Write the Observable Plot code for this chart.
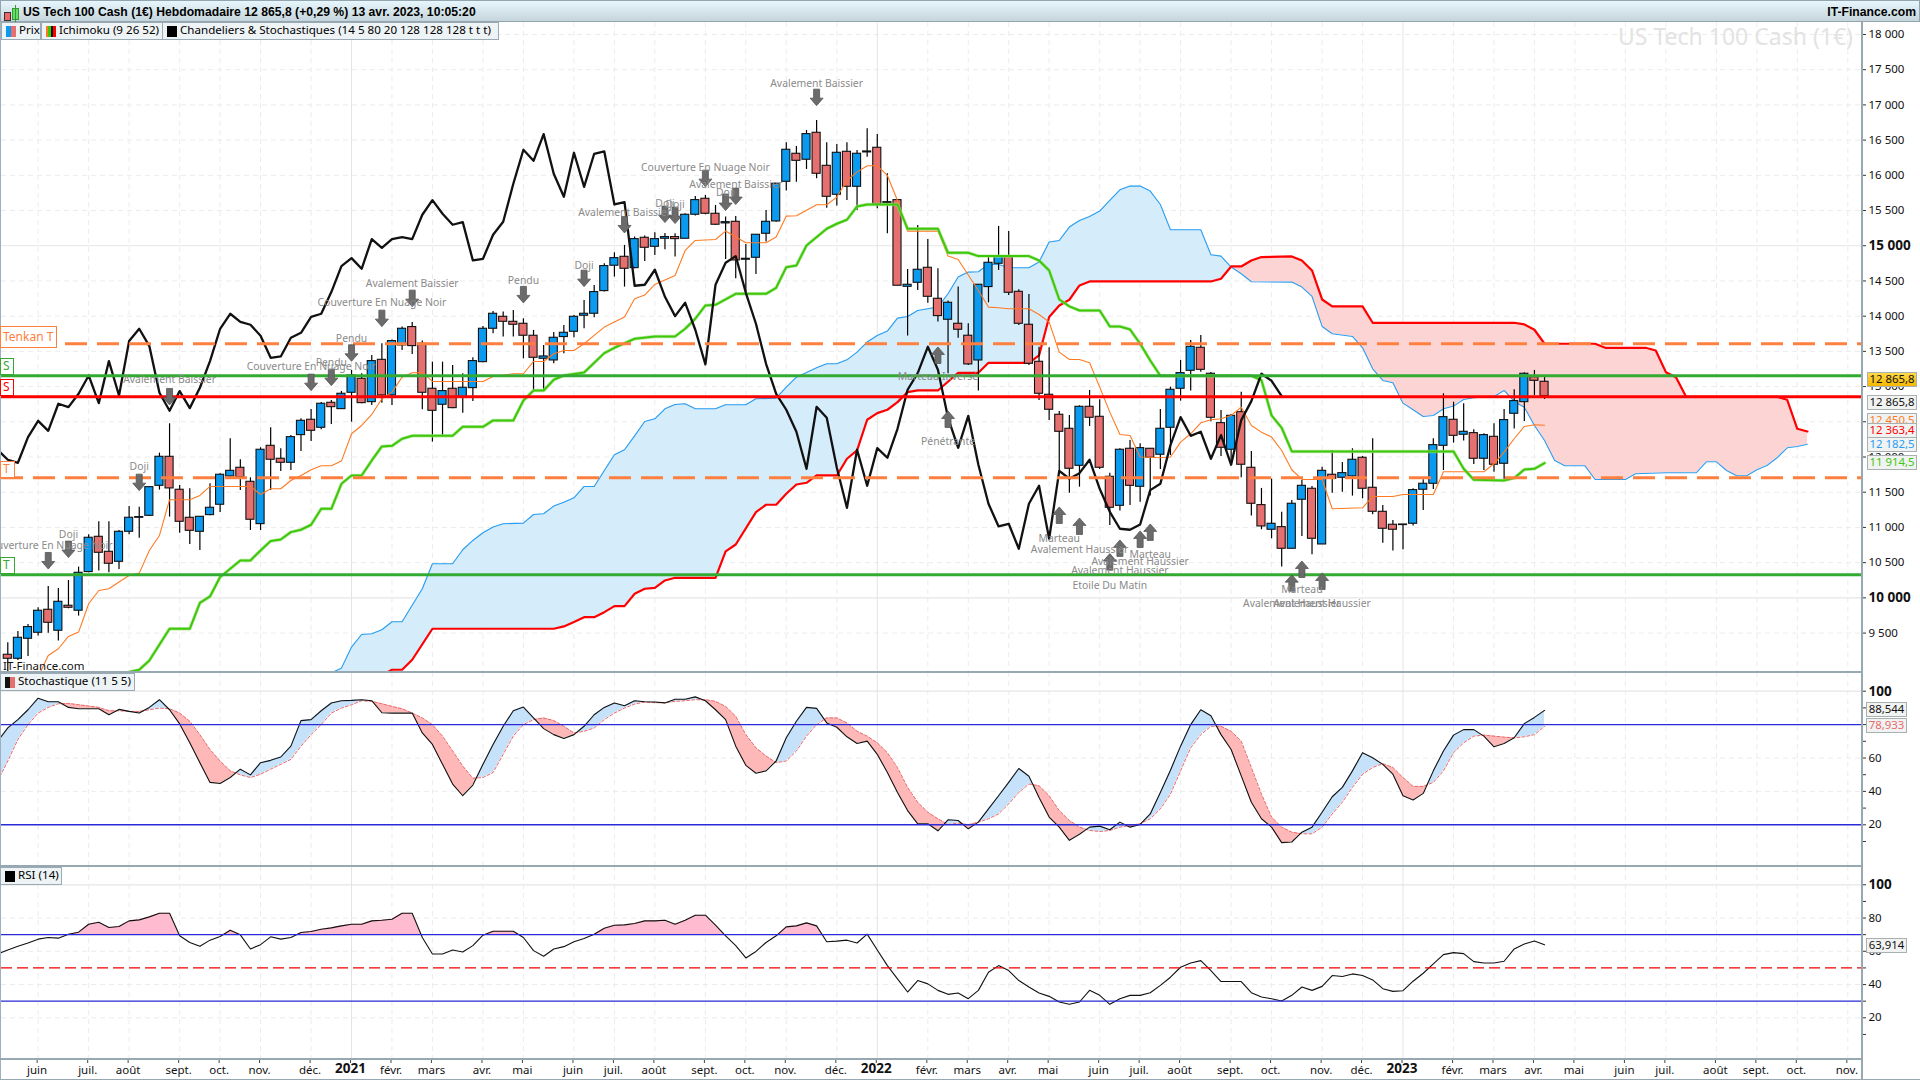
<!DOCTYPE html>
<html lang="fr"><head><meta charset="utf-8">
<script src="https://cdn.jsdelivr.net/npm/d3@7"></script>
<script src="https://cdn.jsdelivr.net/npm/@observablehq/plot@0.6"></script>
<style>
html,body{margin:0;padding:0;background:#fff;overflow:hidden}
#page{position:relative;width:1920px;height:1080px;overflow:hidden;font-family:"Noto Sans",sans-serif;color:#000}
#page>div{position:absolute;box-sizing:border-box}
.panel{left:0}
.panel svg{display:block}
.hdr{left:0;top:0;width:1920px;height:22px;background:linear-gradient(#e6f6fc,#c5d5db);border:1px solid #93a6b0;border-bottom:1.5px solid #93a6b0;font:bold 12.2px "Liberation Sans",sans-serif}
.tab{background:#eef3f6;border:1px solid #9aabb5;height:18px;line-height:14px;font-size:11.6px;white-space:nowrap;padding-left:17px}
.sw{position:absolute;left:4px;top:3px;height:11px;width:10px}
.lev{background:#fff;font-size:12px;text-align:left;padding-left:2px;line-height:16px;border:1px solid}
.val{left:1867px;width:50px;height:15px;line-height:12px;font-size:11.4px;text-align:center;background:#f1f3f3;border:1px solid #a8b0b0;white-space:nowrap}
.sep{left:0;height:2px;background:#98a8b2}
</style></head><body>
<div id="page"></div>
<script>
// ---------- Candles, one value per week starting on 11 May 2020 ----------
const firstWeek = Date.UTC(2020, 4, 11);
const opens = [9192,9135,9419,9504,9831,9533,9888,9817,10366,10867,
10654,10512,10938,11137,11165,11591,12003,11535,11137,10938,
11175,11322,11724,11847,11648,11047,12159,11975,11918,12311,
12529,12415,12770,12680,12912,13111,12779,13380,12874,13584,
13845,13608,12969,12742,12969,12841,12978,13347,13821,13991,
13920,13892,13722,13395,13371,13703,13778,14006,14034,14356,
14716,14843,14682,15113,14985,15099,15123,15099,15440,15667,
15454,15317,15340,14801,14829,15170,15345,15908,16306,16221,
16604,16135,15724,16334,15837,16325,16391,15605,15648,14417,
14474,14687,14247,13949,13892,13722,13371,14413,14744,14839,
14346,13878,13352,12884,12600,12401,11875,12713,12571,11719,
11307,12117,11577,12117,12032,12415,12969,13224,13551,13182,
12481,12103,12637,11847,11317,10967,11004,10697,11393,11549,
10758,11748,11705,11724,11989,11563,11222,11038,11033,11052,
11535,11620,12159,12529,12316,12339,11975,12287,11904,12614,
12779,13134,13068];
const closes = [9135,9433,9585,9817,9646,9944,9859,10356,10853,10640,
10484,10938,11137,11147,11572,12003,11554,11080,10952,11151,
11279,11748,11804,11714,11109,12103,11961,11918,12282,12514,
12372,12756,12708,12898,13158,12765,13362,12874,13646,13821,
13575,12912,12656,12936,12694,12983,13362,13821,14034,13920,
13878,13722,13409,13428,13693,13764,13991,14034,14342,14711,
14824,14673,15094,14971,15094,15123,15094,15440,15648,15454,
15298,15335,14791,14815,15156,15340,15880,16363,16206,16585,
16022,15695,16320,15837,16306,16339,15586,15619,14432,14446,
14659,14275,14001,14190,13807,13315,14446,14758,14853,14332,
13892,13324,12898,12671,12358,11833,12713,12557,11847,11279,
12103,11591,12126,11989,12401,12955,13191,13565,13238,12557,
12131,12585,11890,11336,11014,11052,10697,11336,11591,10839,
11804,11691,11771,11961,11549,11222,10981,10967,11042,11530,
11620,12169,12566,12301,12358,11975,12311,11890,12524,12794,
13182,13082,12866];
const highs = [9362,9523,9622,9859,10162,10134,10247,10437,10896,11080,
11080,10957,11298,11288,11582,12055,12472,11596,11549,11151,
11620,11762,12259,11961,11705,12131,12415,12117,12306,12543,
12675,12775,12803,12931,13229,13182,13442,13608,13660,13845,
13911,13646,13347,13347,13300,13182,13409,13854,14067,14058,
14081,13963,13797,13584,13769,13868,14010,14223,14436,14744,
14900,15004,15123,15137,15184,15175,15170,15454,15700,15714,
15572,15407,15416,15018,15156,15501,15880,16462,16410,16637,
16779,16462,16438,16462,16353,16661,16580,16022,15648,14663,
15288,15089,14673,14214,14413,13892,14446,14853,15274,15203,
14375,14308,13560,13551,12647,12590,12727,12945,12813,11771,
12117,12235,12188,12117,12675,12992,13371,13655,13726,13201,
12661,12604,12921,12079,11554,11686,11217,11383,11667,11582,
11856,12093,11923,12117,12008,12259,11312,11099,11042,11549,
11677,12259,12898,12779,12756,12387,12330,12472,12675,12955,
13196,13229,13134];
const lows = [8922,9111,9168,9457,9499,9386,9845,9741,10356,10380,
10356,10403,10896,10848,11156,11530,11147,10919,10758,10673,
11165,11213,11714,11525,10957,10957,11525,11795,11809,12079,
12221,12387,12462,12680,12495,12756,12732,12765,12732,13513,
13457,12671,12211,12306,12685,12623,12789,13338,13750,13703,
13703,13395,12945,12945,13324,13466,13693,13821,13977,14342,
14555,14413,14673,14777,14862,14943,14839,15099,15421,15440,
15288,14805,14531,14318,14592,15052,15335,15776,15903,16083,
15951,15534,15563,15643,15501,16258,15525,15170,14432,13717,
14365,14185,13916,13182,13688,13300,12936,14190,14649,14294,
13868,13300,12803,12519,11785,11487,11572,12434,11823,11028,
11232,11312,11359,11445,11823,12022,12794,12936,13205,12500,
12008,11880,11705,11161,10967,10839,10437,10697,10872,10612,
10758,11487,11501,11445,11407,11180,10777,10664,10683,11019,
11241,11539,11809,12197,12226,11894,11809,11785,11677,12396,
12505,12874,12817];

// ---------- Ichimoku lines, read as [week, value] at each bend ----------
const tenkan = [[3,8875],[4,9182],[5,9277],[6,9452],[7,9514],[8,9916],[9,10105],[10,10129],[11,10224],[12,10318],[13,10351],[14,10673],[15,10886],[16,11393],[18,11393],[19,11454],[20,11582],[24,11582],[25,11468],[26,11549],[27,11549],[28,11667],[29,11738],[30,11819],[31,11875],[32,11875],[33,11942],[34,12330],[35,12448],[36,12604],[37,12827],[38,12921],[39,13134],[40,13196],[41,13201],[42,13073],[47,13073],[48,13144],[50,13182],[51,13182],[52,13357],[53,13357],[54,13466],[55,13513],[56,13513],[57,13608],[58,13727],[59,13845],[60,13916],[61,13987],[62,14247],[63,14300],[64,14450],[66,14578],[67,14933],[68,15075],[70,15089],[71,15208],[73,15042],[75,15042],[76,15123],[77,15421],[78,15425],[80,15582],[81,15582],[82,15691],[83,15927],[84,16045],[85,16135],[86,16135],[87,15998],[88,15643],[89,15208],[92,15208],[93,14853],[94,14805],[96,14365],[97,14129],[98,14119],[99,14105],[101,14105],[102,14024],[103,13916],[104,13490],[105,13385],[106,13385],[107,13338],[108,12992],[109,12637],[110,12320],[111,12306],[112,12000],[114,11989],[115,12000],[116,12211],[117,12330],[118,12486],[119,12529],[120,12543],[121,12590],[122,12708],[123,12448],[124,12353],[125,12283],[126,12093],[127,11819],[128,11681],[130,11681],[131,11265],[134,11279],[135,11440],[137,11440],[138,11468],[141,11468],[142,11790],[146,11790],[147,11904],[148,12069],[149,12259],[150,12434],[151,12458],[152,12450]];
const kijun = [[12,8946],[13,8979],[14,9111],[16,9561],[18,9561],[19,9930],[20,10020],[21,10295],[22,10413],[23,10531],[24,10531],[25,10673],[26,10806],[27,10829],[28,10933],[29,10967],[30,11038],[31,11265],[32,11265],[33,11620],[34,11738],[35,11738],[36,11951],[37,12150],[38,12159],[39,12259],[40,12301],[44,12301],[45,12429],[47,12429],[48,12519],[50,12519],[51,12803],[52,12945],[53,12945],[54,13097],[55,13158],[57,13201],[59,13475],[60,13551],[62,13679],[64,13712],[66,13712],[67,13821],[68,13963],[69,14152],[70,14162],[72,14318],[75,14318],[76,14403],[77,14696],[78,14720],[79,15004],[81,15241],[82,15312],[83,15369],[84,15558],[85,15586],[88,15586],[89,15241],[92,15241],[93,14900],[95,14900],[96,14853],[101,14853],[102,14791],[103,14649],[104,14237],[105,14138],[106,14081],[108,14081],[109,13854],[110,13854],[111,13811],[112,13608],[113,13371],[114,13153],[123,13153],[124,13090],[125,12590],[126,12415],[127,12079],[143,12079],[144,11833],[145,11677],[148,11667],[149,11700],[150,11823],[151,11833],[152,11914]];
const senkouA = [[28,8500],[32,8936],[33,9002],[34,9301],[35,9480],[36,9490],[37,9547],[38,9660],[39,9660],[41,10129],[42,10484],[44,10484],[45,10683],[46,10815],[47,10924],[48,11005],[49,11052],[51,11061],[52,11184],[53,11194],[54,11303],[55,11359],[56,11421],[57,11582],[58,11582],[60,12032],[61,12103],[62,12300],[63,12505],[64,12543],[65,12685],[66,12746],[67,12756],[68,12685],[70,12685],[71,12742],[73,12742],[74,12827],[76,12836],[77,12992],[78,13134],[80,13267],[81,13324],[82,13324],[83,13380],[84,13489],[85,13632],[86,13726],[87,13788],[88,13972],[89,13996],[90,14081],[91,14105],[92,14129],[93,14318],[94,14555],[95,14626],[96,14630],[97,14735],[98,14735],[99,14687],[101,14687],[102,14768],[103,15052],[104,15075],[105,15265],[106,15359],[107,15416],[108,15492],[109,15643],[110,15795],[111,15847],[112,15847],[113,15776],[114,15586],[115,15227],[118,15227],[119,14872],[120,14853],[121,14697],[122,14602],[123,14488],[127,14484],[128,14413],[129,14280],[130,13854],[131,13750],[133,13712],[134,13551],[135,13253],[136,13087],[137,13054],[138,12765],[139,12671],[140,12576],[141,12590],[142,12685],[143,12723],[144,12817],[145,12841],[147,12860],[148,12945],[149,12789],[150,12708],[151,12448],[152,12235],[153,11951],[154,11875],[156,11875],[157,11681],[160,11681],[161,11762],[164,11776],[167,11776],[168,11932],[169,11932],[170,11809],[171,11733],[172,11733],[173,11819],[174,11880],[175,11989],[176,12131],[177,12150],[178,12182]];
const senkouB = [[28,8300],[37,8900],[38,8979],[39,8979],[40,9121],[42,9561],[54,9561],[55,9594],[56,9656],[57,9726],[58,9726],[59,9797],[60,9883],[61,9883],[62,10058],[63,10129],[64,10143],[65,10247],[66,10285],[70,10285],[71,10659],[72,10758],[74,11218],[75,11322],[76,11322],[77,11478],[78,11610],[79,11634],[80,11738],[82,11738],[83,11975],[84,12093],[85,12529],[86,12623],[87,12671],[88,12779],[89,12921],[90,12945],[92,12945],[94,13196],[96,13196],[97,13338],[101,13338],[102,13442],[103,13987],[104,14152],[105,14233],[106,14436],[107,14493],[119,14493],[120,14531],[121,14706],[122,14706],[123,14791],[124,14839],[127,14848],[128,14791],[129,14649],[130,14237],[131,14138],[134,14138],[135,13906],[149,13906],[150,13883],[151,13807],[152,13608],[157,13608],[158,13551],[162,13551],[163,13513],[164,13205],[165,13134],[166,12855],[175,12855],[176,12813],[177,12401],[178,12363]];

// ---------- Level lines ----------
const tenkanLevels = [13608, 11705];
const supportGreen = [13153, 10328];
const resistanceRed = [12855];

// ---------- Candlestick pattern notes: text, week, text level, arrow level ----------
const downNotes = [
["Couverture En Nuage Noir",4,10744,10531],["Doji",6,10900,10692],["Doji",13,11856,11643],["Avalement Baissier",16,13097,12860],
["Couverture En Nuage Noir",30,13286,13063],["Pendu",32,13338,13134],["Pendu",34,13674,13480],["Couverture En Nuage Noir",37,14185,13972],
["Avalement Baissier",40,14465,14256],["Pendu",51,14507,14309],["Doji",57,14720,14540],["Avalement Baissier",61,15473,15302],
["Doji",65,15596,15449],["Doji",66,15586,15435],["Couverture En Nuage Noir",69,16112,15960],["Doji",71,15757,15620],["Avalement Baissier",72,15870,15705],["Avalement Baissier",80,17304,17110]];
const upNotes = [
["Marteau Inversé",92,13144,13442],["Pénétrante",93,12221,12533],["Marteau",104,10839,11170],["Avalement Haussier",106,10687,11014],
["Etoile Du Matin",109,10176,10508],["Avalement Haussier",110,10380,10702],["Avalement Haussier",112,10507,10829],["Marteau",113,10616,10929],
["Avalement Haussier",127,9916,10209],["Marteau",128,10115,10403],["Avalement Haussier",130,9916,10233]];

// ---------- Oscillators, one value per week starting one week before the first candle ----------
const stochK = [70,78,83,88.9,95.8,93.7,93.7,90.3,89.5,89.5,89.5,
85.9,89.1,87.9,86.9,90.3,94.9,88.9,80.4,69.1,57.2,
45.4,44.7,48.3,53.3,49.9,57.2,58.6,60.6,67.1,82.4,
83,88.3,92.9,94.3,94.5,94.9,94.3,87.1,86.9,86.9,
86.9,75,68.1,56.2,44.4,37.4,43.8,56.2,68.1,79,
88.3,90.5,84,77.6,74,71.7,74,79,85.9,90.3,
92.9,91.3,94.3,93.7,93.5,93,95.2,95.2,96.6,94.3,
88.9,83,67.1,55.6,50.9,52.3,58.2,72.1,82,90.3,
89.7,81,78.4,72.7,68.7,70.1,62.2,51.3,39.4,28.5,
20.6,20.6,16.4,23,22.6,17.6,21.6,29.5,37.4,45.4,
53.7,49.1,36.4,24.6,18.6,10.7,14.3,18.6,19.2,17,
21.6,18.6,20.2,26.5,39.4,52.7,67.1,80,88.9,85.3,
74,65.1,49.3,33.5,23.6,18.6,9.3,9.7,15.6,18.6,
27.5,36.8,42.4,52.3,63.2,60.2,56.2,50.3,37.4,34.9,
38.8,52.3,64.2,73.7,77,77,73.1,66.7,68.7,72.1,
80.6,84.3,88.5];
const stochD = [46.3,58.2,71.1,80,86.9,90.3,92.5,92.7,91.9,91.1,90.3,
88.3,88.3,87.9,87.9,88.9,89.9,89.5,86.9,82,74,
65.1,58.2,52.3,49.9,48.3,50.3,53.3,56.2,59.2,67.1,
74,80,86.9,89.9,91.9,94.3,93.9,92.5,90.9,89.5,
86.9,84,80,73.1,64.2,55.2,47.9,48.3,51.3,62.2,
73.1,80,83,84,82.4,79,75,76,78,83,
86.9,89.9,92.3,93.5,93.1,93.1,93.9,94.3,94.9,94.9,
93.9,90.9,85,74,66.1,61.2,57.2,58.2,64.2,73.1,
80,84,84,81,76,73.1,69.1,63.2,54.3,42.4,
33.5,27.5,23.6,20.2,21,20,21.6,23.6,26.5,32.5,
39.4,44.4,43.4,37.4,28.5,22.6,18.6,16.6,16,16.6,
18.6,19.6,20.6,23.6,29.5,38.4,52.3,66.1,74,79,
79,76,70.1,54.3,38.4,24.6,18.6,15.6,14.6,14.6,
18.6,26.5,33.5,42.4,50.3,54.3,56.6,54.3,48.3,43,
43,45.4,52.3,63.2,69.1,73.1,73.7,73.1,72.5,72.1,
72.7,74,78.9];
const rsi = [58.4,60.8,63,65,67.3,68.3,67.9,70.3,71.5,76.3,77.5,
74.3,74.9,78.3,78.9,80.7,82.9,82.9,69.3,65.3,63,
66.7,68.9,72.7,69.9,61.4,64,68.7,67.3,68.3,71.3,
71.9,73.3,74.1,75.3,76.3,76.3,78.3,78.7,79.3,82.9,
82.9,68.3,58.4,58.4,60.8,59.6,63.4,69.7,72.1,72.1,
72.1,68.3,60.4,57,61.4,62.8,65.7,67.7,70.3,73.9,
75.7,75.9,76.7,78.3,78.3,78.7,76.3,78.7,81.7,81.7,
75.7,69.3,63.4,56,59.9,65.3,69.3,74.7,75.3,77.1,
75.3,65.7,66.1,66.7,65,70.3,60.8,51.4,43.4,35.5,
42.4,40.4,36.5,34.1,34.9,31.5,36.5,47.4,51.4,48.4,
42.4,38.5,34.9,32.9,29.5,28.1,29.5,36.5,33.5,28.1,
31.5,33.5,33.5,35.1,39.5,44.4,50.4,53,54.4,48.4,
41.8,41.8,41.8,35.1,32.5,31.5,30.1,33.5,38.5,36.5,
38.9,45.4,44.8,46.4,45.4,42.8,37.5,35.9,36.3,42,
46.8,52.4,58,59.2,58.6,53.8,53,53,54,61.4,
64.4,66.2,63.9];

// ---------- Axis ticks ----------
const monthTicks = ["2020-06-01","2020-07-06","2020-08-03","2020-09-07","2020-10-05","2020-11-02","2020-12-07",
"2021-02-01","2021-03-01","2021-04-05","2021-05-03","2021-06-07","2021-07-05","2021-08-02","2021-09-06","2021-10-04","2021-11-01","2021-12-06",
"2022-02-07","2022-03-07","2022-04-04","2022-05-02","2022-06-06","2022-07-04","2022-08-01","2022-09-05","2022-10-03","2022-11-07","2022-12-05",
"2023-02-06","2023-03-06","2023-04-03","2023-05-01","2023-06-05","2023-07-03","2023-08-07","2023-09-04","2023-10-02","2023-11-06"];
const monthNames = ["janv.","févr.","mars","avr.","mai","juin","juil.","août","sept.","oct.","nov.","déc."];
const yearTicks = ["2021-01-04","2022-01-03","2023-01-02"];
const priceTicks = [9500,10500,11000,11500,12000,12500,13000,13500,14000,14500,15500,16000,16500,17000,17500,18000];
const priceBoldTicks = [10000,15000];
const oscTicks = [20,40,60,80];
const oscMinor = [10,30,50,70,90];

// ---------- Helpers ----------
const WEEK = 7*864e5;
const dateOf = w => new Date(firstWeek + w*WEEK);
const months = monthTicks.map(d => new Date(d+"T00:00:00Z"));
const years = yearTicks.map(d => new Date(d+"T00:00:00Z"));
const xDomain = [dateOf(-0.623), dateOf(183.35)];
const fmtPrice = v => String(v).replace(/(\d)(\d{3})$/, "$1 $2");
const FONT = '"Noto Sans",sans-serif';
const pairRows = a => a.map(([w,v]) => ({x:dateOf(w), v}));
const weekRows = a => a.map((v,k) => ({x:dateOf(k-1), v}));
const at = (pts,w) => {
  const k = d3.bisector(p=>p[0]).left(pts,w);
  if (k<=0) return pts[0][1];
  if (k>=pts.length) return pts[pts.length-1][1];
  const [a,b]=[pts[k-1],pts[k]];
  return a[1]+(b[1]-a[1])*(w-a[0])/(b[0]-a[0]);
};
// Align two read lines on shared weeks, adding the point where they meet, so a band can be filled between them.
function band(weeks, fa, fb){
  const out=[];
  weeks.forEach((w,k)=>{
    const a=fa(w), b=fb(w);
    if(k){
      const pw=weeks[k-1], pa=fa(pw), pb=fb(pw);
      if((pa-pb)*(a-b)<0){
        const t=(pa-pb)/((pa-pb)-(a-b));
        const c=pa+(a-pa)*t;
        out.push({x:dateOf(pw+(w-pw)*t),a:c,b:c});
      }
    }
    out.push({x:dateOf(w),a,b});
  });
  return out;
}
const grid = (yTicks, ySolid) => [
  Plot.ruleY(yTicks,{stroke:"#ececec",strokeDasharray:"5 4",strokeWidth:1}),
  Plot.ruleY(ySolid,{stroke:"#e6e6e6",strokeWidth:1.2}),
  Plot.ruleX(months,{stroke:"#ececec",strokeDasharray:"5 4",strokeWidth:1}),
  Plot.ruleX(years,{stroke:"#e4e4e4",strokeWidth:1})
];
const axisR = (ticks,fmt,opts={}) => Plot.axisY({anchor:"right",ticks,tickFormat:fmt,tickSize:4,tickPadding:3,label:null,fontSize:11.5,stroke:"#333",fill:"#111",...opts});
const base = (height,yDomain,mb=0) => ({width:1920,height,marginLeft:1,marginRight:59,marginTop:0,marginBottom:mb,
  x:{type:"utc",domain:xDomain,axis:null},y:{domain:yDomain,axis:null},
  style:{background:"transparent",fontFamily:FONT,overflow:"visible"}});

// ---------- Arrow shapes for the pattern notes ----------
const arrowDown = {draw(c){c.moveTo(-3,-8);c.lineTo(3,-8);c.lineTo(3,1);c.lineTo(6.5,1);c.lineTo(0,8.5);c.lineTo(-6.5,1);c.lineTo(-3,1);c.closePath();}};
const arrowUp = {draw(c){c.moveTo(-3,8);c.lineTo(3,8);c.lineTo(3,-1);c.lineTo(6.5,-1);c.lineTo(0,-8.5);c.lineTo(-6.5,-1);c.lineTo(-3,-1);c.closePath();}};

// ---------- Main price panel ----------
const candles = closes.map((c,i)=>({x:dateOf(i),x1:dateOf(i-0.4),x2:dateOf(i+0.4),o:opens[i],h:highs[i],l:lows[i],c,up:c>=opens[i]}));
const chikou = closes.slice(25).map((c,k)=>({x:dateOf(k-1),v:c}));
const cloud = band(d3.range(28,179),w=>at(senkouA,w),w=>at(senkouB,w));
const noteRow = ([t,w,ty,ay])=>({t,x:dateOf(w),ty,ay});
const downRows = downNotes.map(noteRow), upRows = upNotes.map(noteRow);
const main = Plot.plot({...base(650,[8940,18170]),marks:[
  ...grid(priceTicks,priceBoldTicks),
  Plot.areaY(cloud,{x:"x",y1:"b",y2:d=>Math.max(d.a,d.b),fill:"#d5ecfb",clip:true}),
  Plot.areaY(cloud,{x:"x",y1:"a",y2:d=>Math.max(d.a,d.b),fill:"#fdd4d4",clip:true}),
  Plot.line(pairRows(senkouA),{x:"x",y:"v",stroke:"#2a9df0",strokeWidth:1.1,clip:true}),
  Plot.line(pairRows(senkouB),{x:"x",y:"v",stroke:"#f00",strokeWidth:2.2,clip:true}),
  Plot.ruleX(candles,{x:"x",y1:"l",y2:"h",stroke:"#000",strokeWidth:1.2,clip:true}),
  Plot.rect(candles,{x1:"x1",x2:"x2",y1:"o",y2:"c",fill:d=>d.up?"#0a9af0":"#e66f6f",stroke:"#111",strokeWidth:1.1,inset:0,clip:true}),
  Plot.line(pairRows(tenkan),{x:"x",y:"v",stroke:"#ff7a22",strokeWidth:1.1,clip:true}),
  Plot.line(pairRows(kijun),{x:"x",y:"v",stroke:"#9be27f",strokeWidth:3.4,strokeOpacity:.7,clip:true}),
  Plot.line(pairRows(kijun),{x:"x",y:"v",stroke:"#3fc70a",strokeWidth:2,clip:true}),
  Plot.line(chikou,{x:"x",y:"v",stroke:"#111",strokeWidth:2.3,clip:true}),
  Plot.ruleY(supportGreen,{stroke:"#33ab33",strokeWidth:3}),
  Plot.ruleY(resistanceRed,{stroke:"#f00",strokeWidth:3}),
  Plot.ruleY(tenkanLevels,{stroke:"#ff7f3f",strokeWidth:3,strokeDasharray:"22 10"}),
  Plot.dot(downRows,{x:"x",y:"ay",symbol:arrowDown,r:5,fill:"#6b6b6b",stroke:"#555",strokeWidth:.8}),
  Plot.dot(upRows,{x:"x",y:"ay",symbol:arrowUp,r:5,fill:"#6b6b6b",stroke:"#555",strokeWidth:.8}),
  Plot.text([...downRows,...upRows],{x:"x",y:"ty",text:"t",fill:"#8a8a8a",fontSize:10.4,fontFamily:FONT}),
  axisR(priceTicks,fmtPrice),
  axisR(priceBoldTicks,fmtPrice,{fontWeight:"bold",fontSize:13.5})
]});

// ---------- Stochastic panel ----------
const stochBand = band(d3.range(-1,153),w=>stochK[w+1],w=>stochD[w+1]);
const stoch = Plot.plot({...base(194,[-4.97,111.2]),marks:[
  ...grid([40,60],[100]),
  Plot.areaY(stochBand,{x:"x",y1:"b",y2:d=>Math.max(d.a,d.b),fill:"#c6e2fb",clip:true}),
  Plot.areaY(stochBand,{x:"x",y1:"a",y2:d=>Math.max(d.a,d.b),fill:"#ffb8b8",clip:true}),
  Plot.line(weekRows(stochD),{x:"x",y:"v",stroke:"#e86a6a",strokeWidth:1,strokeDasharray:"3 2",clip:true}),
  Plot.line(weekRows(stochK),{x:"x",y:"v",stroke:"#111",strokeWidth:1.1,clip:true}),
  Plot.ruleY([20,80],{stroke:"#2a2ad8",strokeWidth:1.4}),
  axisR(oscTicks,d=>d),
  axisR(oscMinor,()=>""),
  axisR([100],d=>d,{fontWeight:"bold",fontSize:13.5})
]});

// ---------- RSI panel with the month axis below it ----------
const rsiBand = band(d3.range(-1,153),w=>rsi[w+1],()=>70);
const rsiPlot = Plot.plot({...base(213,[-5.08,111],20),marks:[
  ...grid([20,40,60,80],[100]),
  Plot.areaY(rsiBand,{x:"x",y1:"b",y2:d=>Math.max(d.a,d.b),fill:"#ffbcd0",clip:true}),
  Plot.line(weekRows(rsi),{x:"x",y:"v",stroke:"#111",strokeWidth:1.1,clip:true}),
  Plot.ruleY([30,70],{stroke:"#2a2ad8",strokeWidth:1.4}),
  Plot.ruleY([50],{stroke:"#e00",strokeWidth:1.4,strokeDasharray:"11 5"}),
  axisR(oscTicks,d=>d),
  axisR(oscMinor,()=>""),
  axisR([100],d=>d,{fontWeight:"bold",fontSize:13.5}),
  Plot.axisX({ticks:months,tickFormat:d=>monthNames[d.getUTCMonth()],tickSize:4,tickPadding:2,label:null,fontSize:11.5,stroke:"#444",fill:"#111",textAnchor:"middle",dx:-1}),
  Plot.axisX({ticks:years,tickFormat:d=>String(d.getUTCFullYear()),tickSize:4,tickPadding:0,label:null,fontSize:13.5,fontWeight:"bold",stroke:"#444",fill:"#111",dx:-1})
]});

// ---------- Page assembly ----------
const page = document.getElementById("page");
function add(html,css,cls){const e=document.createElement("div");if(cls)e.className=cls;e.style.cssText=css;e.innerHTML=html;page.appendChild(e);return e;}
function addPlot(svg,top){const e=add("",`top:${top}px;width:1920px`,"panel");e.appendChild(svg);}
addPlot(main,22); addPlot(stoch,672); addPlot(rsiPlot,866);

add("",'left:0;top:0;width:1px;height:1080px;background:#9fb0ba');
add("",'top:671px;width:1862px',"sep"); add("",'top:865px;width:1862px',"sep"); add("",'top:1058px;width:1862px',"sep");
add("",'left:1861px;top:22px;width:1.5px;height:1058px;background:#98a8b2');
add("",'left:0;top:1079px;width:1920px;height:1px;background:#98a8b2');

add(`<span style="position:absolute;left:22px;top:4px;white-space:nowrap">US Tech 100 Cash (1€) Hebdomadaire 12 865,8 (+0,29 %) 13 avr. 2023, 10:05:20</span>
<span style="position:absolute;right:3px;top:4px">IT-Finance.com</span>
<i style="position:absolute;left:3px;top:11px;width:5px;height:7px;background:#e66;border:1px solid #333"></i>
<i style="position:absolute;left:11px;top:7px;width:5px;height:10px;background:#6d6;border:1px solid #393"></i>
<i style="position:absolute;left:14px;top:4px;width:1px;height:17px;background:#393"></i>`,"","hdr");

add(`<span class="sw" style="background:linear-gradient(90deg,#0a9af0 50%,#e66f6f 50%)"></span>Prix`,'left:1px;top:22px;width:40px',"tab");
add(`<span class="sw" style="background:linear-gradient(90deg,#ff7a22 25%,#3fc70a 25% 50%,#111 50% 75%,#f00 75%)"></span>Ichimoku (9 26 52)`,'left:41px;top:22px;width:122px',"tab");
add(`<span class="sw" style="background:#000"></span>Chandeliers &amp; Stochastiques (14 5 80 20 128 128 128 t t t)`,'left:162px;top:22px;width:337px',"tab");
add(`<span class="sw" style="background:linear-gradient(90deg,#111 50%,#e66f6f 50%)"></span>Stochastique (11 5 5)`,'left:0;top:673px;width:135px',"tab");
add(`<span class="sw" style="background:#000"></span>RSI (14)`,'left:0;top:867px;width:62px',"tab");

add("US Tech 100 Cash (1€)",'left:1618px;top:20px;width:234px;font-size:23px;color:#e3e3e3;white-space:nowrap');
add("IT-Finance.com",'left:3px;top:658px;font-size:11.5px;color:#111;white-space:nowrap');

const levelTag=(t,top,w,col,h=17)=>add(t,`left:0;top:${top}px;width:${w}px;height:${h}px;border-color:${col};color:${col};line-height:${h-3}px`,"lev");
levelTag("Tenkan T",326,57,"#ff7f3f",22);
levelTag("S",358,14,"#33ab33");
levelTag("S",379,14,"#f00");
levelTag("T",461,15,"#ff7f3f");
levelTag("T",557,15,"#33ab33");

const valTag=(t,top,col="#111",bg="#f1f3f3",left=1867,w=50)=>add(t,`left:${left}px;width:${w}px;top:${top}px;color:${col};background:${bg}`,"val");
valTag("12 450,5",413,"#ff7a22");
valTag("12 363,4",423,"#f00");
valTag("12 182,5",437,"#2a9df0");
valTag("11 914,5",455,"#3fc70a");
valTag("12 865,8",395);
valTag("12 865,8",372,"#111","linear-gradient(#ffd84a,#f5b800)");
valTag("78,933",718,"#e86a6a","#f1f3f3",1866,41);
valTag("88,544",702,"#111","#f1f3f3",1866,41);
valTag("63,914",938,"#111","#f1f3f3",1866,41);
</script>
</body></html>
